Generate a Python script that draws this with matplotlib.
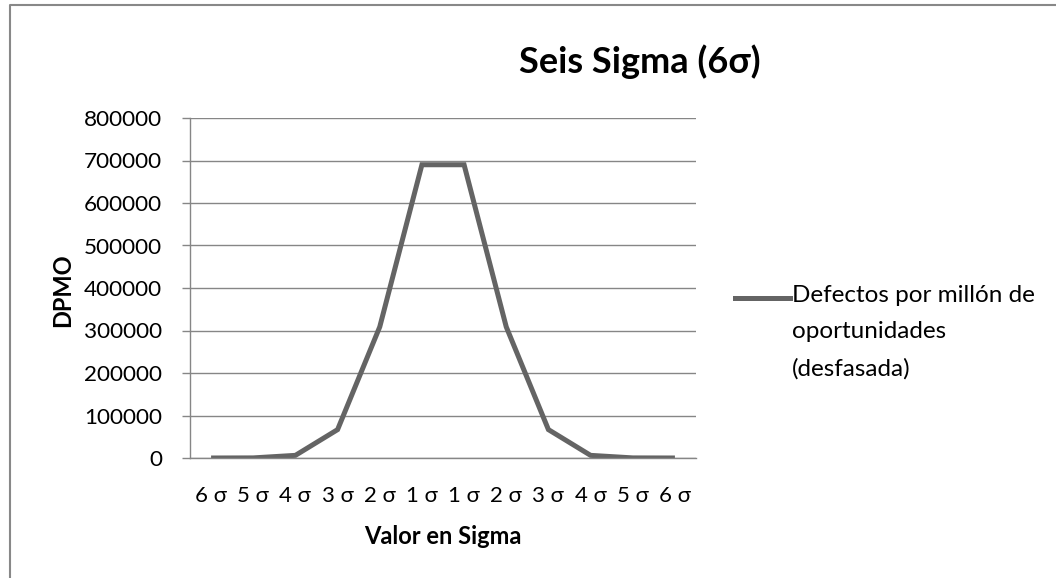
import matplotlib
matplotlib.use("Agg")
import matplotlib.pyplot as plt
from matplotlib.lines import Line2D

categories = ["6 σ", "5 σ", "4 σ", "3 σ", "2 σ", "1 σ", "1 σ", "2 σ", "3 σ", "4 σ", "5 σ", "6 σ"]
dpmo = [3.4, 233, 6210, 66807, 308538, 690000, 690000, 308538, 66807, 6210, 233, 3.4]
yticks = [0, 100000, 200000, 300000, 400000, 500000, 600000, 700000, 800000]
title = "Seis Sigma (6σ)"
series_name = "Defectos por millón de\noportunidades\n(desfasada)"

plt.rcParams['font.family'] = ['Lato', 'DejaVu Sans']

W, H = 1056, 578
fig = plt.figure(figsize=(W / 100, H / 100), dpi=100)
ax = fig.add_axes([190 / W, 1 - 458 / H, (696 - 190) / W, (458 - 118) / H])

x = list(range(len(categories)))
ax.plot(x, dpmo, color="#646464", linewidth=3.6, solid_capstyle="butt", solid_joinstyle="miter")

ax.set_xlim(-0.5, len(categories) - 0.5)
ax.set_ylim(0, 800000)
ax.set_yticks(yticks)
ax.set_yticklabels([str(v) for v in yticks], fontsize=16.2)
ax.set_xticks(x)
ax.set_xticklabels(categories, fontsize=16)
ax.tick_params(axis='x', length=0, pad=20)
ax.tick_params(axis='y', length=6, width=1, color="#868686", pad=14)
ax.yaxis.grid(True, color="#868686", linewidth=1)
ax.set_axisbelow(True)
for s in ["top", "right"]:
    ax.spines[s].set_visible(False)
for s in ["left", "bottom"]:
    ax.spines[s].set_color("#868686")
    ax.spines[s].set_linewidth(1)

fig.text(443 / W, 1 - 536 / H, "Valor en Sigma", fontsize=17, fontweight="bold", ha="center", va="center")
fig.text(63 / W, 1 - 290 / H, "DPMO", fontsize=17, fontweight="bold", ha="center", va="center", rotation=90)
fig.text(640 / W, 1 - 62 / H, title, fontsize=26, fontweight="bold", ha="center", va="center")

# legend
fig.add_artist(Line2D([735 / W, 790 / W], [1 - 298 / H, 1 - 298 / H], color="#646464", linewidth=3.6, transform=fig.transFigure))
fig.text(792 / W, 1 - 285 / H, series_name, fontsize=17.5, ha="left", va="top", linespacing=1.9)

# chart border
fig.add_artist(Line2D([10 / W, 10 / W, 1.0], [0.0, 1 - 5 / H, 1 - 5 / H], color="#888888", linewidth=1.5, transform=fig.transFigure))

fig.savefig("out.png", dpi=100)
